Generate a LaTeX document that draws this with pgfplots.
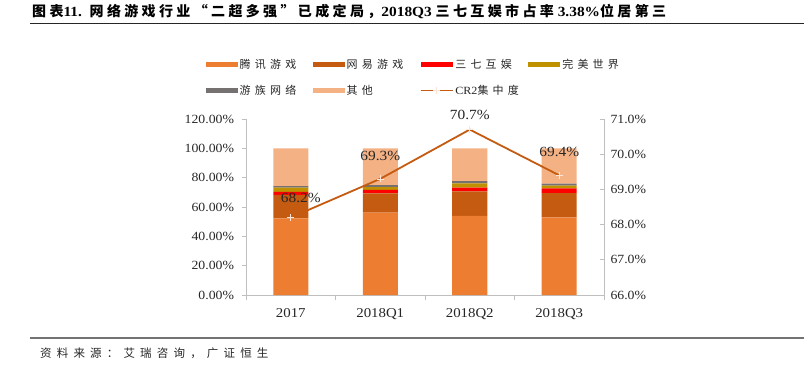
\documentclass[border=0pt]{standalone}
\usepackage{fontspec}
\setmainfont{Liberation Serif}[FakeStretch=1.1]
\newfontfamily\cjk{Noto Sans CJK SC}[LetterSpace=38]
\newfontfamily\cjkt{Noto Sans CJK SC}[LetterSpace=24]
\newfontfamily\cjks{Noto Sans CJK SC}[LetterSpace=45]
\usepackage{pgfplots}
\pgfplotsset{compat=1.18}
\definecolor{cTX}{HTML}{ED7D31}
\definecolor{cWY}{HTML}{C55A11}
\definecolor{cSQ}{HTML}{FF0000}
\definecolor{cWM}{HTML}{BF9000}
\definecolor{cYZ}{HTML}{767171}
\definecolor{cQT}{HTML}{F4B183}
\definecolor{cLine}{HTML}{C55A11}
\definecolor{cMark}{HTML}{FBE5D6}
\definecolor{cAx}{HTML}{BFBFBF}
\definecolor{cTxt}{HTML}{262626}
\pgfplotsset{
  crleg/.style={legend image code/.code={\draw[color=cLine, line width=1.6pt] (0pt,0pt) -- (32pt,0pt);
     \draw[draw=cMark, line width=0.6pt] (16pt,-3.5pt) -- (16pt,3.5pt) (12.5pt,0pt) -- (19.5pt,0pt);}},
}
\begin{document}
\begin{tikzpicture}[x=1pt,y=1pt]
\useasboundingbox (0,0) rectangle (804,-376);
% title
\node[anchor=west, inner sep=0pt, text=black, font=\fontsize{14}{15}\selectfont\bfseries] at (32,-12)
  {{\cjkt 图表}11.\ \ {\cjkt 网络游戏行业“二超多强”已成定局，}2018Q3 {\cjkt 三七互娱市占率} 3.38\%{\cjkt 位居第三}};
\draw[line width=1.4pt, black!85] (30,-23.5) -- (804,-23.5);
\draw[line width=1.3pt, black!55] (30,-338) -- (804,-338);
\node[anchor=west, inner sep=0pt, text=cTxt, font=\fontsize{11.5}{12}\selectfont] at (40,-353) {\cjks 资料来源：艾瑞咨询，广证恒生};

\begin{axis}[
  at={(246pt,-295pt)}, anchor=south west,
  scale only axis, width=358pt, height=176pt,
  ybar stacked, bar width=35pt,
  xmin=-0.5, xmax=3.5, ymin=0, ymax=120,
  axis y line*=left, axis x line*=bottom,
  axis line style={draw=cAx, line width=0.9pt},
  xtick={-0.5,0.5,1.5,2.5,3.5}, xticklabels={},
  extra x ticks={0,1,2,3},
  extra x tick labels={2017,2018Q1,2018Q2,2018Q3},
  extra x tick style={major tick length=0pt, xticklabel style={yshift=-10pt}},
  ytick={0,20,40,60,80,100,120},
  yticklabel={\pgfmathprintnumber[fixed,fixed zerofill,precision=2]{\tick}\%},
  /pgf/number format/assume math mode=true,
  tick align=outside, major tick length=4.5pt,
  tick style={draw=cAx, line width=0.9pt},
  yticklabel style={font=\fontsize{12.5}{13}\selectfont, text=cTxt, xshift=-4pt},
  xticklabel style={font=\fontsize{13.5}{14}\selectfont, text=cTxt},
  legend image code/.code={\path[#1,draw=none] (0pt,-2.5pt) rectangle (32pt,2.5pt);},
  legend style={at={(-0.113,1.352)}, anchor=north west, draw=none, fill=none,
    inner sep=0pt, legend columns=4, row sep=11pt,
    font=\fontsize{11}{12}\selectfont, text=cTxt,
    /tikz/every even column/.append style={column sep=11pt}},
  legend cell align=left,
]
\addplot[fill=cTX, draw=none] coordinates {(0,52.3) (1,56.1) (2,53.9) (3,53.0)};
\addplot[fill=cWY, draw=none] coordinates {(0,15.9) (1,13.2) (2,16.8) (3,16.4)};
\addplot[fill=cSQ, draw=none] coordinates {(0,2.2) (1,2.3) (2,2.5) (3,3.38)};
\addplot[fill=cWM, draw=none] coordinates {(0,2.8) (1,2.0) (2,2.9) (3,1.8)};
\addplot[fill=cYZ, draw=none] coordinates {(0,1.1) (1,1.4) (2,1.6) (3,1.4)};
\addplot[fill=cQT, draw=none] coordinates {(0,25.7) (1,25.0) (2,22.3) (3,24.02)};
\addlegendimage{crleg}
\legend{\makebox[60pt][l]{\cjk 腾讯游戏},\makebox[60pt][l]{\cjk 网易游戏},\makebox[60pt][l]{\cjk 三七互娱},\makebox[60pt][l]{\cjk 完美世界},\makebox[60pt][l]{\cjk 游族网络},\makebox[60pt][l]{\cjk 其他},\makebox[60pt][l]{CR2{\cjk 集中度}}}
\end{axis}

\begin{axis}[
  at={(246pt,-295pt)}, anchor=south west,
  scale only axis, width=358pt, height=176pt,
  xmin=-0.5, xmax=3.5, ymin=66, ymax=71,
  axis y line*=right, axis x line=none,
  axis line style={draw=cAx, line width=0.9pt},
  ytick={66,67,68,69,70,71},
  yticklabel={\pgfmathprintnumber[fixed,fixed zerofill,precision=1]{\tick}\%},
  /pgf/number format/assume math mode=true,
  tick align=inside, major tick length=4.5pt,
  tick style={draw=cAx, line width=0.9pt},
  yticklabel style={font=\fontsize{12.5}{13}\selectfont, text=cTxt, xshift=3pt},
  clip=false,
]
\addplot[color=cLine, line width=1.8pt, mark=+,
  mark options={draw=cMark, line width=0.6pt, mark size=3.5pt},
  nodes near coords, point meta=explicit symbolic,
  every node near coord/.append style={anchor=base, yshift=15pt, text=cTxt, font=\fontsize{14}{14}\selectfont}]
coordinates {(0,68.2) [\hspace{20pt}68.2\%] (1,69.3) [\raisebox{3pt}{69.3\%}] (2,70.7) [\raisebox{-5pt}{70.7\%}] (3,69.4) [\raisebox{3.5pt}{69.4\%}]};
\end{axis}
\end{tikzpicture}
\end{document}
